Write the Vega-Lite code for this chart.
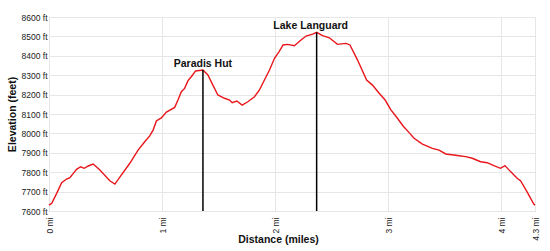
{
  "$schema": "https://vega.github.io/schema/vega-lite/v6.json",
  "width": 486,
  "height": 194,
  "autosize": {"type": "none"},
  "padding": {"left": 49, "top": 17, "right": 15, "bottom": 40},
  "background": "white",
  "config": {
    "font": "Liberation Sans",
    "view": {"stroke": "#dddddd"},
    "axis": {
      "gridColor": "#e6e6e6",
      "domain": false,
      "ticks": false,
      "labelOverlap": false,
      "labelFont": "Liberation Sans",
      "labelFontSize": 8.5,
      "labelColor": "#222222",
      "titleFont": "Liberation Sans",
      "titleFontSize": 10.5,
      "titleFontWeight": "bold",
      "titleColor": "#111111"
    }
  },
  "datasets": {
    "profile": [
      {"dist": 0, "elev": 7630}, {"dist": 0.024, "elev": 7640}, {"dist": 0.068, "elev": 7691},
      {"dist": 0.112, "elev": 7746}, {"dist": 0.156, "elev": 7765}, {"dist": 0.185, "elev": 7772},
      {"dist": 0.215, "elev": 7794}, {"dist": 0.244, "elev": 7815}, {"dist": 0.28, "elev": 7828},
      {"dist": 0.312, "elev": 7820}, {"dist": 0.347, "elev": 7832}, {"dist": 0.391, "elev": 7842},
      {"dist": 0.45, "elev": 7811}, {"dist": 0.538, "elev": 7756}, {"dist": 0.583, "elev": 7739},
      {"dist": 0.641, "elev": 7786}, {"dist": 0.715, "elev": 7846}, {"dist": 0.788, "elev": 7914},
      {"dist": 0.847, "elev": 7957}, {"dist": 0.891, "elev": 7987}, {"dist": 0.921, "elev": 8017},
      {"dist": 0.95, "elev": 8064}, {"dist": 0.994, "elev": 8080}, {"dist": 1.039, "elev": 8110},
      {"dist": 1.112, "elev": 8134}, {"dist": 1.141, "elev": 8172}, {"dist": 1.171, "elev": 8215},
      {"dist": 1.2, "elev": 8232}, {"dist": 1.23, "elev": 8272}, {"dist": 1.259, "elev": 8292},
      {"dist": 1.297, "elev": 8322}, {"dist": 1.362, "elev": 8327}, {"dist": 1.406, "elev": 8301},
      {"dist": 1.45, "elev": 8249}, {"dist": 1.494, "elev": 8198}, {"dist": 1.553, "elev": 8181},
      {"dist": 1.598, "elev": 8172}, {"dist": 1.621, "elev": 8158}, {"dist": 1.662, "elev": 8167},
      {"dist": 1.709, "elev": 8146}, {"dist": 1.759, "elev": 8163}, {"dist": 1.818, "elev": 8189},
      {"dist": 1.862, "elev": 8224}, {"dist": 1.906, "elev": 8275}, {"dist": 1.951, "elev": 8327},
      {"dist": 1.995, "elev": 8387}, {"dist": 2.036, "elev": 8421}, {"dist": 2.071, "elev": 8456},
      {"dist": 2.112, "elev": 8459}, {"dist": 2.171, "elev": 8452}, {"dist": 2.23, "elev": 8481},
      {"dist": 2.274, "elev": 8502}, {"dist": 2.333, "elev": 8512}, {"dist": 2.368, "elev": 8521},
      {"dist": 2.421, "elev": 8504}, {"dist": 2.48, "elev": 8493}, {"dist": 2.553, "elev": 8459},
      {"dist": 2.627, "elev": 8464}, {"dist": 2.663, "elev": 8456}, {"dist": 2.73, "elev": 8378},
      {"dist": 2.81, "elev": 8275}, {"dist": 2.862, "elev": 8249}, {"dist": 2.921, "elev": 8207},
      {"dist": 2.974, "elev": 8172}, {"dist": 3.025, "elev": 8121}, {"dist": 3.083, "elev": 8078},
      {"dist": 3.133, "elev": 8038}, {"dist": 3.186, "elev": 8004}, {"dist": 3.23, "elev": 7975},
      {"dist": 3.304, "elev": 7945}, {"dist": 3.392, "elev": 7923}, {"dist": 3.451, "elev": 7914},
      {"dist": 3.51, "elev": 7894}, {"dist": 3.583, "elev": 7889}, {"dist": 3.628, "elev": 7885},
      {"dist": 3.687, "elev": 7880}, {"dist": 3.745, "elev": 7872}, {"dist": 3.819, "elev": 7854},
      {"dist": 3.877, "elev": 7849}, {"dist": 3.936, "elev": 7834}, {"dist": 3.995, "elev": 7820},
      {"dist": 4.034, "elev": 7834}, {"dist": 4.084, "elev": 7803}, {"dist": 4.142, "elev": 7769},
      {"dist": 4.172, "elev": 7756}, {"dist": 4.23, "elev": 7699}, {"dist": 4.289, "elev": 7636},
      {"dist": 4.3, "elev": 7630}
    ],
    "peaks": [
      {"dist": 1.362, "elev": 8327, "name": "Paradis Hut"},
      {"dist": 2.368, "elev": 8521, "name": "Lake Languard"}
    ]
  },
  "encoding": {
    "x": {
      "field": "dist", "type": "quantitative",
      "scale": {"domain": [0, 4.3], "nice": false, "zero": false},
      "axis": {
        "values": [0, 1, 2, 3, 4, 4.3],
        "labelExpr": "datum.value + ' mi'",
        "labelAngle": -90,
        "labelPadding": 6,
        "labelOverlap": false,
        "title": "Distance (miles)",
        "titleX": 229,
        "titleY": 31,
        "titleBaseline": "alphabetic",
        "titleAlign": "center"
      }
    },
    "y": {
      "field": "elev", "type": "quantitative",
      "scale": {"domain": [7600, 8600], "nice": false, "zero": false},
      "axis": {
        "values": [7600, 7700, 7800, 7900, 8000, 8100, 8200, 8300, 8400, 8500, 8600],
        "labelExpr": "datum.value + ' ft'",
        "labelPadding": 2,
        "labelOverlap": false,
        "title": "Elevation (feet)",
        "titlePadding": 4
      }
    }
  },
  "layer": [
    {
      "data": {"name": "profile"},
      "mark": {"type": "line", "color": "#e8161b", "strokeWidth": 1.4}
    },
    {
      "data": {"name": "peaks"},
      "mark": {"type": "rule", "color": "black", "strokeWidth": 1.5},
      "encoding": {
        "y2": {"datum": 7600}
      }
    },
    {
      "data": {"name": "peaks"},
      "transform": [{"filter": "datum.name == 'Paradis Hut'"}],
      "mark": {"type": "text", "fontWeight": "bold", "fontSize": 10.5, "baseline": "alphabetic", "dy": -3, "color": "#111111"},
      "encoding": {
        "text": {"field": "name"}
      }
    },
    {
      "data": {"name": "peaks"},
      "transform": [{"filter": "datum.name == 'Lake Languard'"}],
      "mark": {"type": "text", "fontWeight": "bold", "fontSize": 10.5, "baseline": "alphabetic", "dy": -3, "dx": -6, "color": "#111111"},
      "encoding": {
        "text": {"field": "name"}
      }
    }
  ]
}
